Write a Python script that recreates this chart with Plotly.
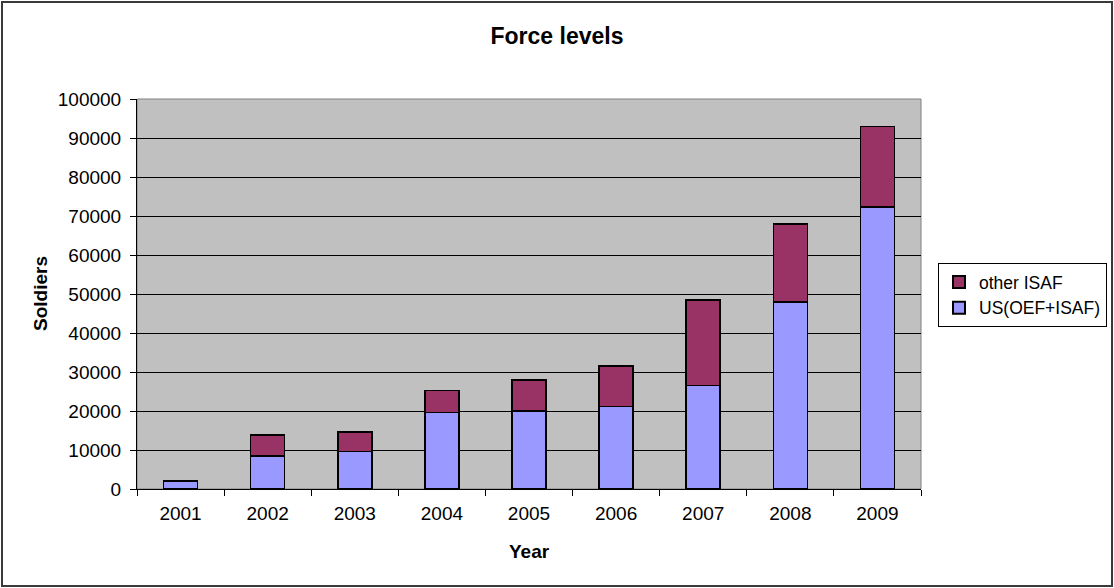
import plotly.graph_objects as go

years = ["2001", "2002", "2003", "2004", "2005", "2006", "2007", "2008", "2009"]
us_oef_isaf = [2000, 8400, 9600, 19600, 20000, 21100, 26500, 48000, 72300]
other_isaf = [0, 5400, 5000, 5700, 8000, 10400, 22000, 20000, 20700]
y_ticks = [0, 10000, 20000, 30000, 40000, 50000, 60000, 70000, 80000, 90000, 100000]

FONT = "Liberation Sans, Arial, sans-serif"

fig = go.Figure()
fig.add_trace(go.Bar(
    x=years, y=us_oef_isaf, name="US(OEF+ISAF)",
    marker=dict(color="#9999FF", line=dict(color="black", width=1.5)),
))
fig.add_trace(go.Bar(
    x=years, y=other_isaf, name="other ISAF",
    marker=dict(color="#993366", line=dict(color="black", width=1.5)),
))

W, H = 1114, 588
L, R, T, B = 137, 921, 99, 489
pw, ph = R - L, B - T

def px(x):
    return (x - L) / pw

def py(y):
    return (B - y) / ph

fig.update_layout(
    width=W, height=H,
    margin=dict(l=L, r=W - R, t=T, b=H - B, pad=0, autoexpand=False),
    barmode="stack", bargap=0.61,
    paper_bgcolor="white", plot_bgcolor="#C0C0C0",
    font=dict(family=FONT, size=19, color="black"),
    showlegend=True,
    title=dict(text="<b>Force levels</b>", x=0.5, xref="container", xanchor="center",
               y=1 - 36 / H, yref="container", yanchor="middle",
               font=dict(family=FONT, size=23, color="black")),
    legend=dict(x=px(938), y=py(263), xanchor="left", yanchor="top",
                traceorder="reversed", bgcolor="white",
                bordercolor="black", borderwidth=1,
                font=dict(family=FONT, size=17.5, color="black"),
                itemsizing="constant", itemwidth=30, tracegroupgap=0),
    xaxis=dict(
        type="category", showgrid=False, showline=True, linecolor="black", linewidth=1,
        ticks="outside", tickson="boundaries", ticklen=6, tickcolor="black",
        tickfont=dict(family=FONT, size=19), ticklabelstandoff=7,
        zeroline=False, mirror=False,
    ),
    yaxis=dict(
        range=[0, 100000], tickvals=y_ticks, ticktext=[str(v) for v in y_ticks],
        showgrid=True, gridcolor="black", gridwidth=1,
        showline=True, linecolor="black", linewidth=1,
        ticks="outside", ticklen=6, tickcolor="black",
        tickfont=dict(family=FONT, size=19), ticklabelstandoff=5,
        zeroline=False,
    ),
    shapes=[
        dict(type="rect", xref="paper", yref="paper", x0=0, x1=1, y0=0, y1=1,
             line=dict(color="#808080", width=1), fillcolor="rgba(0,0,0,0)", layer="below"),
        dict(type="rect", xref="paper", yref="paper",
             x0=px(2), x1=px(1112), y0=py(586), y1=py(2),
             line=dict(color="#3a3a3a", width=2), fillcolor="rgba(0,0,0,0)"),
    ],
    annotations=[
        dict(text="<b>Soldiers</b>", textangle=-90, xref="paper", yref="paper",
             x=px(40), y=0.5, xanchor="center", yanchor="middle", showarrow=False,
             font=dict(family=FONT, size=19, color="black")),
        dict(text="<b>Year</b>", xref="paper", yref="paper",
             x=0.5, y=py(551), xanchor="center", yanchor="middle", showarrow=False,
             font=dict(family=FONT, size=19, color="black")),
    ],
)

fig.write_html("out.html")
